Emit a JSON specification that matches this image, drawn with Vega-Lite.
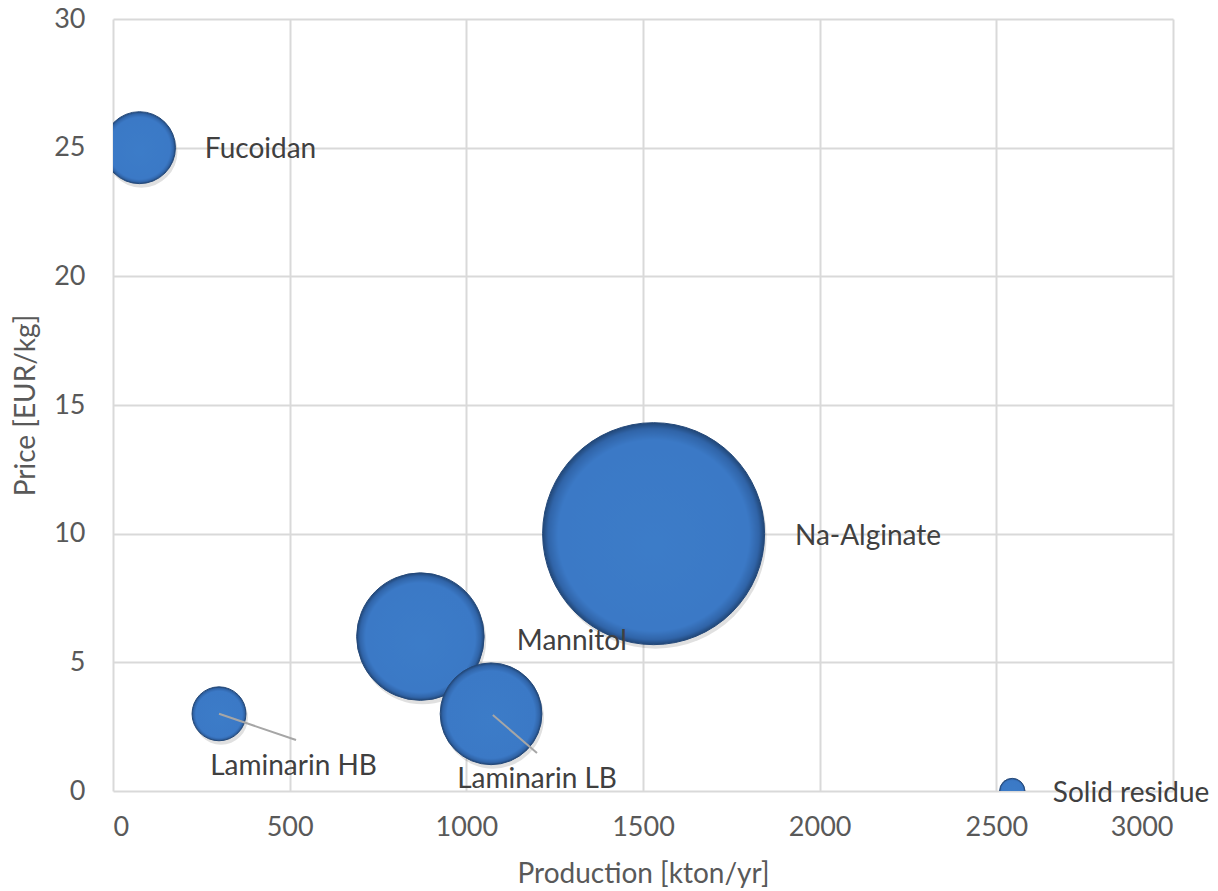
{
  "$schema": "https://vega.github.io/schema/vega-lite/v6.json",
  "width": 1060,
  "height": 772,
  "autosize": {"type": "none"},
  "padding": {"left": 113, "top": 19, "right": 45, "bottom": 100},
  "background": "white",
  "config": {
    "view": {"stroke": null},
    "font": "Lato",
    "axis": {
      "labelFont": "Lato",
      "labelFontSize": 27,
      "labelColor": "#595959",
      "titleFont": "Lato",
      "titleFontSize": 28,
      "titleFontWeight": "normal",
      "titleColor": "#595959",
      "gridColor": "#d9d9d9",
      "gridWidth": 2,
      "domain": false,
      "ticks": false
    }
  },
  "datasets": {
    "bubbles": [
      {"product": "Fucoidan", "production": 75, "price": 25, "bubble": 10.5},
      {"product": "Laminarin HB", "production": 300, "price": 3, "bubble": 5.9},
      {"product": "Mannitol", "production": 870, "price": 6, "bubble": 33},
      {"product": "Laminarin LB", "production": 1070, "price": 3, "bubble": 21},
      {"product": "Na-Alginate", "production": 1530, "price": 10, "bubble": 100},
      {"product": "Solid residue", "production": 2545, "price": 0, "bubble": 1.3}
    ],
    "labels": [
      {"product": "Fucoidan", "lx": 260, "ly": 24.92},
      {"product": "Laminarin HB", "lx": 275, "ly": 0.92},
      {"product": "Mannitol", "lx": 1143, "ly": 5.8},
      {"product": "Laminarin LB", "lx": 974, "ly": 0.42},
      {"product": "Na-Alginate", "lx": 1930, "ly": 9.88},
      {"product": "Solid residue", "lx": 2660, "ly": -0.12}
    ],
    "leaders": [
      {"product": "Laminarin HB", "x": 300, "y": 3, "x2": 518, "y2": 1.98},
      {"product": "Laminarin LB", "x": 1075, "y": 2.95, "x2": 1200, "y2": 1.48}
    ]
  },
  "layer": [
    {
      "data": {"name": "bubbles"},
      "mark": {"type": "circle", "clip": true, "color": "#000000", "opacity": 0.12, "xOffset": 2, "yOffset": 4},
      "encoding": {
        "x": {"field": "production", "type": "quantitative"},
        "y": {"field": "price", "type": "quantitative"},
        "size": {"field": "bubble", "type": "quantitative", "legend": null}
      }
    },
    {
      "data": {"name": "bubbles"},
      "mark": {
        "type": "circle",
        "clip": true,
        "opacity": 1,
        "stroke": "#24497a",
        "strokeWidth": 1,
        "color": {
          "gradient": "radial",
          "x1": 0.5, "y1": 0.56, "r1": 0,
          "x2": 0.5, "y2": 0.5, "r2": 0.5,
          "stops": [
            {"offset": 0, "color": "#3c7cc8"},
            {"offset": 0.86, "color": "#3b79c6"},
            {"offset": 0.95, "color": "#3064a8"},
            {"offset": 1, "color": "#214676"}
          ]
        }
      },
      "encoding": {
        "x": {
          "field": "production", "type": "quantitative",
          "scale": {"domain": [0, 3000], "nice": false},
          "axis": {"values": [0, 500, 1000, 1500, 2000, 2500, 3000], "format": "d", "labelPadding": 23, "title": "Production [kton/yr]", "titlePadding": 20}
        },
        "y": {
          "field": "price", "type": "quantitative",
          "scale": {"domain": [0, 30], "nice": false},
          "axis": {"values": [0, 5, 10, 15, 20, 25, 30], "labelPadding": 28, "title": "Price [EUR/kg]", "titlePadding": 13}
        },
        "size": {
          "field": "bubble", "type": "quantitative",
          "scale": {"domain": [0, 100], "range": [0, 49284]},
          "legend": null
        }
      }
    },
    {
      "data": {"name": "leaders"},
      "mark": {"type": "rule", "color": "#a6a6a6", "strokeWidth": 2},
      "encoding": {
        "x": {"field": "x", "type": "quantitative"},
        "y": {"field": "y", "type": "quantitative"},
        "x2": {"field": "x2"},
        "y2": {"field": "y2"}
      }
    },
    {
      "data": {"name": "labels"},
      "mark": {"type": "text", "align": "left", "baseline": "middle", "font": "Lato", "fontSize": 28, "color": "#404040"},
      "encoding": {
        "x": {"field": "lx", "type": "quantitative"},
        "y": {"field": "ly", "type": "quantitative"},
        "text": {"field": "product"}
      }
    }
  ]
}
